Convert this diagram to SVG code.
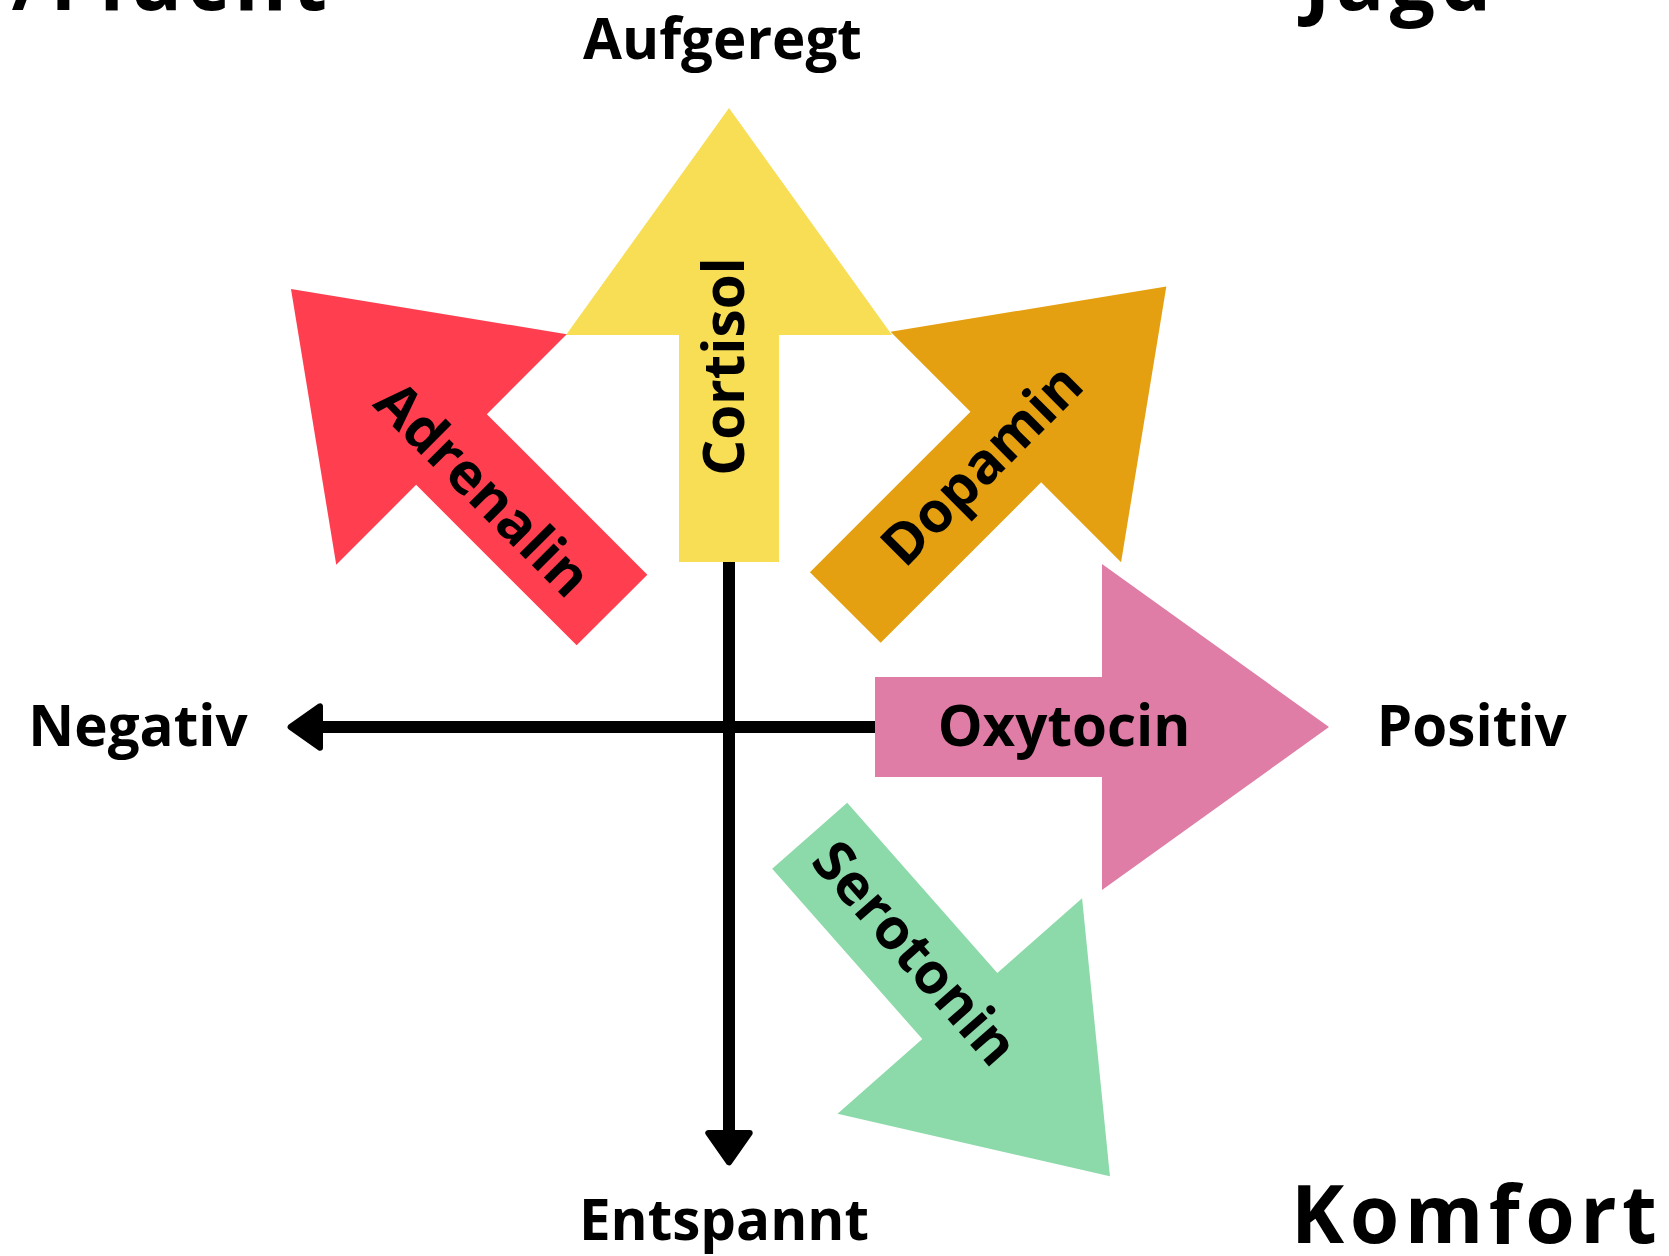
<svg xmlns="http://www.w3.org/2000/svg" width="1669" height="1256" viewBox="0 0 1669 1256">
  <style>
    .lbl { font-family: "Open Sans", "Noto Sans", "DejaVu Sans", sans-serif; font-weight: 700; font-size: 56.5px; fill: #000; }
    .big { font-size: 80px; letter-spacing: 5.5px; }
    .axis { stroke: #000; stroke-width: 12; fill: none; }
    .c-cortisol { fill: #F7DE55; }
    .c-adrenalin { fill: #FF3F4F; }
    .c-dopamin { fill: #E4A010; }
    .c-oxytocin { fill: #DF7DA6; }
    .c-serotonin { fill: #8CD9A9; }
  </style>
  <defs>
    <polygon id="arr" points="0,-50 227,-50 227,-163 454,0 227,163 227,50 0,50"/>
    <marker id="ah" markerUnits="userSpaceOnUse" viewBox="-5 -30 45 60" markerWidth="45" markerHeight="60" refX="0" refY="0" orient="auto" overflow="visible">
      <path d="M0,-20.7 L29.4,0 L0,20.7 Z" fill="#000" stroke="#000" stroke-width="6" stroke-linejoin="round"/>
    </marker>
  </defs>
  <rect width="1669" height="1256" fill="#fff"/>

  <g id="connectors">
    <line class="axis" x1="875" y1="727" x2="320" y2="727" marker-end="url(#ah)"/>
    <line class="axis" x1="729" y1="560" x2="729" y2="1133" marker-end="url(#ah)"/>
  </g>

  <g id="cortisol">
    <use href="#arr" class="c-cortisol" transform="translate(729 562) rotate(-90)"/>
    <text class="lbl" x="744" y="366.5" text-anchor="middle" transform="rotate(-90 744 366.5)">Cortisol</text>
  </g>
  <g id="adrenalin">
    <use href="#arr" class="c-adrenalin" transform="translate(612 610) rotate(-135)"/>
    <text class="lbl" x="469.3" y="503" text-anchor="middle" transform="rotate(45 469.3 503)">Adrenalin</text>
  </g>
  <g id="dopamin">
    <use href="#arr" class="c-dopamin" transform="translate(845.3 607.5) rotate(-45)"/>
    <text class="lbl" x="995.5" y="478.5" text-anchor="middle" transform="rotate(-45 995.5 478.5)">Dopamin</text>
  </g>
  <g id="oxytocin">
    <use href="#arr" class="c-oxytocin" transform="translate(875 727)"/>
    <text class="lbl" x="1064" y="746" text-anchor="middle">Oxytocin</text>
  </g>
  <g id="serotonin">
    <use href="#arr" class="c-serotonin" transform="translate(809.7 835.7) rotate(48.6)"/>
    <text class="lbl" x="900.6" y="966.1" text-anchor="middle" transform="rotate(48.6 900.6 966.1)">Serotonin</text>
  </g>

  <g id="labels">
    <text class="lbl" x="722.5" y="59" text-anchor="middle">Aufgeregt</text>
    <text class="lbl" x="724" y="1240" text-anchor="middle">Entspannt</text>
    <text class="lbl" x="138" y="746" text-anchor="middle">Negativ</text>
    <text class="lbl" x="1471.7" y="746" text-anchor="middle">Positiv</text>
    <text class="lbl big" x="1291" y="1243" text-anchor="start">Komfort</text>
    <text class="lbl big" x="332.5" y="9.5" text-anchor="end">Kampf/Flucht</text>
    <text class="lbl big" x="1304" y="10" text-anchor="start">Jagd</text>
  </g>
</svg>
